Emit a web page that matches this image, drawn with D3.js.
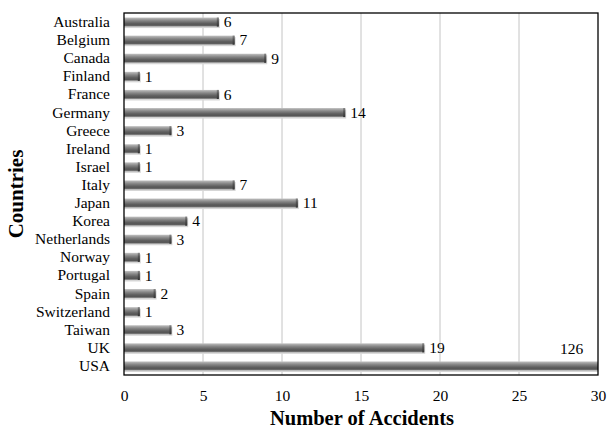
<!DOCTYPE html>
<html>
<head>
<meta charset="utf-8">
<script src="https://cdn.jsdelivr.net/npm/d3@7"></script>
</head>
<body style="margin:0">
<svg id="chart" width="608" height="428"></svg>
<script>
// Accidents by country
const countries = ["Australia", "Belgium", "Canada", "Finland", "France", "Germany", "Greece",
  "Ireland", "Israel", "Italy", "Japan", "Korea", "Netherlands", "Norway", "Portugal", "Spain",
  "Switzerland", "Taiwan", "UK", "USA"];
const accidents = [6, 7, 9, 1, 6, 14, 3, 1, 1, 7, 11, 4, 3, 1, 1, 2, 1, 3, 19, 126];
const xTicks = [0, 5, 10, 15, 20, 25, 30];

const FONT = "Liberation Serif";
const svg = d3.select("#chart");
const margin = { top: 13, right: 10, bottom: 53, left: 124 };
const W = 608, H = 428;
const innerW = W - margin.left - margin.right;
const innerH = H - margin.top - margin.bottom;

const xMax = 30;
const x = d3.scaleLinear().domain([0, xMax]).range([0, innerW]);
const y = d3.scaleBand().domain(countries).range([0, innerH]).paddingInner(0.5).paddingOuter(0.25);

const defs = svg.append("defs");
const grad = defs.append("linearGradient").attr("id", "barGrad")
  .attr("x1", 0).attr("y1", 0).attr("x2", 0).attr("y2", 1);
[[0, "#c4c4c4"], [0.14, "#a8a8a8"], [0.35, "#858585"], [0.65, "#5e5e5e"], [0.85, "#555"], [1, "#9a9a9a"]]
  .forEach(([o, c]) => grad.append("stop").attr("offset", o).attr("stop-color", c));
const capGrad = defs.append("linearGradient").attr("id", "capGrad")
  .attr("x1", 0).attr("y1", 0).attr("x2", 0).attr("y2", 1);
[[0, "#888"], [0.4, "#555"], [1, "#333"]]
  .forEach(([o, c]) => capGrad.append("stop").attr("offset", o).attr("stop-color", c));
defs.append("clipPath").attr("id", "plotClip")
  .append("rect").attr("width", innerW).attr("height", innerH);

const g = svg.append("g").attr("transform", `translate(${margin.left},${margin.top})`);

// vertical gridlines
g.append("g").selectAll("line").data(xTicks.slice(1, -1)).join("line")
  .attr("x1", d => x(d)).attr("x2", d => x(d))
  .attr("y1", 0).attr("y2", innerH)
  .attr("stroke", "#c4c4c4").attr("stroke-width", 1);

// bars, clipped at the axis maximum
const bars = g.append("g").attr("clip-path", "url(#plotClip)");
bars.selectAll("rect.shadow").data(countries).join("rect").attr("class", "shadow")
  .attr("x", 0).attr("y", d => y(d) + 1.5)
  .attr("width", (d, i) => x(accidents[i]) + 1)
  .attr("height", y.bandwidth())
  .attr("fill", "#d6d6d6");
bars.selectAll("rect.bar").data(countries).join("rect").attr("class", "bar")
  .attr("x", 0).attr("y", d => y(d))
  .attr("width", (d, i) => x(accidents[i]))
  .attr("height", y.bandwidth())
  .attr("fill", "url(#barGrad)");
bars.selectAll("rect.cap").data(countries).join("rect").attr("class", "cap")
  .attr("x", (d, i) => x(accidents[i]) - 2).attr("y", d => y(d))
  .attr("width", 2)
  .attr("height", y.bandwidth())
  .attr("fill", "url(#capGrad)");

// value labels; a bar running past the axis gets its label above the bar
g.append("g").selectAll("text").data(countries).join("text")
  .attr("x", (d, i) => accidents[i] > xMax ? x(xMax) - 38 : x(accidents[i]) + 5)
  .attr("y", (d, i) => accidents[i] > xMax ? y(d) - 13 : y(d) + y.bandwidth() / 2)
  .attr("dy", "0.34em")
  .attr("font-family", FONT)
  .attr("font-size", 15.5)
  .attr("fill", "#000")
  .text((d, i) => accidents[i]);

// frame
g.append("rect").attr("width", innerW).attr("height", innerH)
  .attr("fill", "none").attr("stroke", "#000").attr("stroke-width", 1.3);

// x axis
const xAxis = g.append("g").attr("transform", `translate(0,${innerH})`)
  .call(d3.axisBottom(x).tickValues(xTicks).tickSize(0).tickPadding(15));
xAxis.select(".domain").remove();
xAxis.attr("font-family", FONT);
xAxis.selectAll("text").attr("font-family", FONT).attr("font-size", 15.5).attr("fill", "#000");

// y axis
const yAxis = g.append("g")
  .call(d3.axisLeft(y).tickSize(0).tickPadding(14));
yAxis.select(".domain").remove();
yAxis.attr("font-family", FONT);
yAxis.selectAll("text").attr("font-family", FONT).attr("font-size", 15.5).attr("fill", "#000");

// axis titles
svg.append("text")
  .attr("x", margin.left + innerW / 2 + 1).attr("y", 425)
  .attr("text-anchor", "middle").attr("font-family", FONT)
  .attr("font-size", 20.5).attr("font-weight", "bold")
  .text("Number of Accidents");
svg.append("text")
  .attr("transform", `translate(23,194) rotate(-90)`)
  .attr("text-anchor", "middle").attr("font-family", FONT)
  .attr("font-size", 21).attr("font-weight", "bold")
  .text("Countries");
</script>
</body>
</html>
